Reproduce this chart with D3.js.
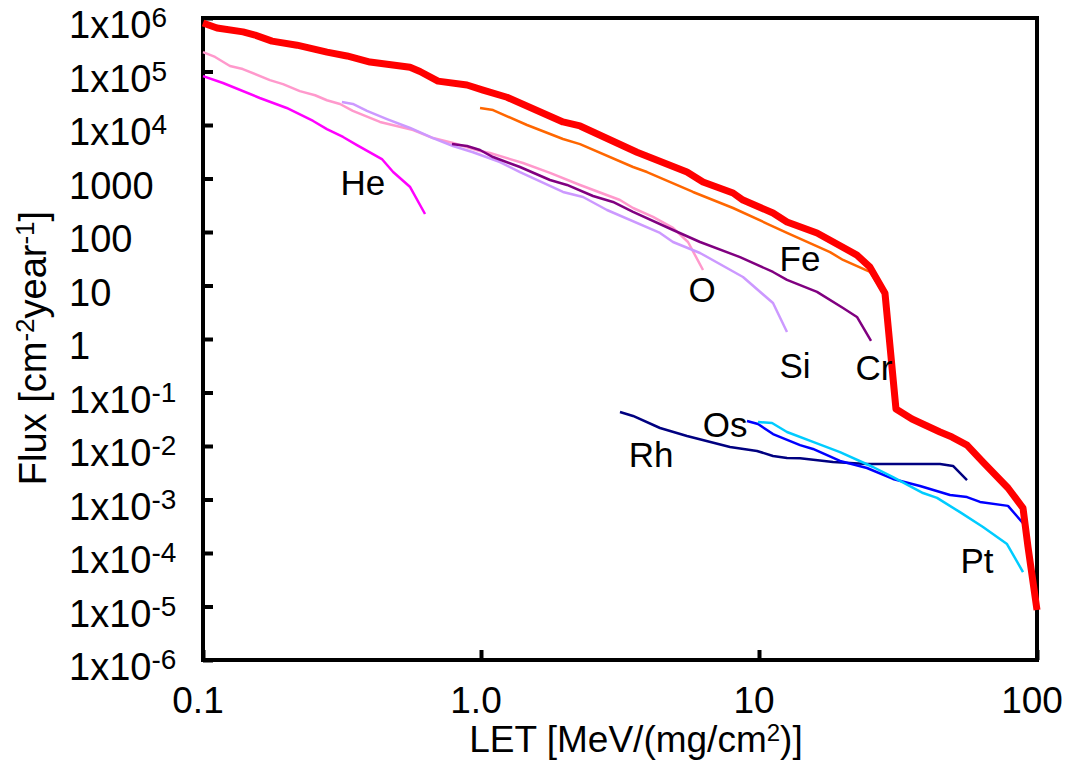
<!DOCTYPE html>
<html>
<head>
<meta charset="utf-8">
<script src="https://cdn.jsdelivr.net/npm/d3@7/dist/d3.min.js"></script>
<style>
  html, body { margin: 0; padding: 0; background: #fff; }
  svg { display: block; font-family: "Liberation Sans", Arial, sans-serif; }
</style>
</head>
<body>
<svg id="chart" width="1069" height="769"></svg>
<script>
// LET spectrum of heavy ions: flux vs LET, per element and total
const heX = [0.1, 0.118, 0.16, 0.2, 0.249, 0.279, 0.319, 0.358, 0.44, 0.483, 0.556, 0.629];
const heY = [8.2e4, 6.1e4, 3.2e4, 2.08e4, 1.19e4, 8.4e3, 5.97e3, 4.2e3, 2.31e3, 1.32e3, 693, 217];

const oX = [0.1, 0.1105, 0.125, 0.139, 0.174, 0.194, 0.223, 0.253, 0.279, 0.311, 0.346, 0.433, 0.57, 0.672, 0.793, 0.992, 1.077, 1.416, 1.771, 2.271, 3.162, 3.523, 4.157, 4.905, 5.554, 6.289];
const oY = [2.3e5, 1.87e5, 1.27e5, 1.11e5, 6.9e4, 5.8e4, 4.3e4, 3.6e4, 2.9e4, 2.47e4, 1.83e4, 1.14e4, 8.07e3, 5.7e3, 4.6e3, 3.27e3, 3.0e3, 1.95e3, 1.27e3, 757, 397, 281, 191, 119, 65, 19.5];

const siX = [0.316, 0.346, 0.389, 0.459, 0.556, 0.672, 0.793, 0.936, 1.17, 1.381, 1.972, 2.328, 2.839, 4.405, 4.905, 6.135, 8.758, 11.23, 12.61];
const siY = [2.69e4, 2.47e4, 1.83e4, 1.29e4, 8.8e3, 5.7e3, 4.05e3, 3.1e3, 2.03e3, 1.32e3, 560, 451, 258, 96, 65, 40.5, 14.4, 4.7, 1.35];

const crX = [0.7865, 0.8905, 0.992, 1.105, 1.381, 1.771, 2.039, 2.529, 2.984, 3.523, 4.905, 6.135, 8.546, 11.23, 12.61, 16.17, 20.06, 22.51, 25.29];
const crY = [4.4e3, 4.05e3, 3.41e3, 2.52e3, 1.64e3, 937, 757, 471, 364, 237, 109, 65, 34, 17.9, 12.7, 7.6, 3.8, 2.58, 0.92];

const feX = [0.992, 1.105, 1.464, 1.972, 2.271, 3.523, 3.955, 5.789, 8.064, 10.96, 12.61, 18.01, 20.06, 25.08, 28.63];
const feY = [2.08e4, 1.9e4, 1.0e4, 5.47e3, 4.4e3, 1.64e3, 1.32e3, 560, 281, 135, 96, 42, 30, 17.9, 6.1];

const rhX = [3.162, 3.523, 4.405, 5.508, 7.866, 9.836, 11.23, 12.61, 14.05, 18.46, 24.46, 44.79, 49.88, 56.01];
const rhY = [0.0432, 0.0364, 0.0217, 0.0154, 0.00958, 0.00807, 0.0065, 0.00597, 0.0059, 0.00502, 0.00461, 0.00461, 0.00423, 0.00231];

const osX = [9.055, 9.918, 11.23, 14.05, 15.64, 19.56, 24.46, 30.34, 37.95, 48.66, 56.01, 62.37, 78.65, 89.06];
const osY = [0.0293, 0.0258, 0.0167, 0.0104, 0.0088, 0.00525, 0.00388, 0.00242, 0.00179, 0.00121, 0.00111, 0.0009, 0.00076, 0.00036];

const ptX = [9.918, 11.14, 12.61, 15.64, 19.56, 25.71, 30.34, 38.91, 43.7, 52.84, 63.94, 78.0, 89.06];
const ptY = [0.0281, 0.0269, 0.0183, 0.0119, 0.0077, 0.00405, 0.00263, 0.00132, 0.00107, 0.00058, 0.000306, 0.000147, 4.4e-5];

const totalX = [0.1, 0.1123, 0.1393, 0.1539, 0.1771, 0.2179, 0.2793, 0.3296, 0.3988, 0.5555, 0.6034, 0.7003, 0.8905, 1.017, 1.24, 1.972, 2.271, 3.641, 5.508, 6.289, 8.064, 8.758, 11.23, 12.61, 16.17, 22.51, 25.08, 28.39, 31.1, 35.51, 44.79, 49.47, 56.01, 63.94, 78.65, 89.06, 92.81, 100];
const totalY = [8.07e5, 6.5e5, 5.5e5, 4.8e5, 3.7e5, 3.1e5, 2.3e5, 1.95e5, 1.5e5, 1.2e5, 1.0e5, 6.6e4, 5.6e4, 4.5e4, 3.3e4, 1.14e4, 9.6e3, 3.1e3, 1.32e3, 860, 536, 396, 226, 154, 96, 37, 22, 7.2, 0.049, 0.032, 0.0183, 0.0147, 0.0104, 0.005, 0.00164, 6.9e-4, 1.3e-4, 8.6e-6];

// Axis ticks and their labels
const xTicks = [0.1, 1, 10, 100];
const xTickLabels = ["0.1", "1.0", "10", "100"];
const yTicks = [1e6, 1e5, 1e4, 1e3, 100, 10, 1, 1e-1, 1e-2, 1e-3, 1e-4, 1e-5, 1e-6];
const yTickBase = ["1x10", "1x10", "1x10", "1000", "100", "10", "1", "1x10", "1x10", "1x10", "1x10", "1x10", "1x10"];
const yTickSup = ["6", "5", "4", "", "", "", "", "-1", "-2", "-3", "-4", "-5", "-6"];

// Element label anchors (data units)
const labelNames = ["He", "O", "Si", "Cr", "Fe", "Rh", "Os", "Pt"];
const labelX = [0.376, 6.24, 13.48, 25.93, 14.05, 4.09, 7.55, 60.84];
const labelY = [492, 4.92, 0.187, 0.171, 18.7, 0.00405, 0.0147, 4.23e-5];

const series = [
  { xs: heX, ys: heY, color: "#ff00ff", width: 2.5 },
  { xs: oX, ys: oY, color: "#ff99cc", width: 2.5 },
  { xs: siX, ys: siY, color: "#cc99ff", width: 2.5 },
  { xs: crX, ys: crY, color: "#800080", width: 2.5 },
  { xs: feX, ys: feY, color: "#ff6600", width: 2.5 },
  { xs: rhX, ys: rhY, color: "#000080", width: 2.5 },
  { xs: osX, ys: osY, color: "#0000ff", width: 2.5 },
  { xs: ptX, ys: ptY, color: "#00ccff", width: 2.5 },
  { xs: totalX, ys: totalY, color: "#ff0000", width: 7 }
];

const svg = d3.select("#chart");
const plotLeft = 203, plotRight = 1037, plotTop = 18, plotBottom = 660;

const x = d3.scaleLog().domain([0.1, 100]).range([plotLeft, plotRight]);
const y = d3.scaleLog().domain([1e-6, 1e6]).range([plotBottom, plotTop]);

svg.append("rect").attr("width", 1069).attr("height", 769).attr("fill", "#fff");

// Inward tick marks
svg.append("g")
  .attr("transform", `translate(${plotLeft},0)`)
  .call(d3.axisRight(y).tickValues(yTicks).tickSize(10).tickFormat(""))
  .call(g => g.select(".domain").remove())
  .call(g => g.selectAll("line").attr("stroke", "#000").attr("stroke-width", 4));

svg.append("g")
  .attr("transform", `translate(0,${plotBottom})`)
  .call(d3.axisTop(x).tickValues(xTicks).tickSize(10).tickFormat(""))
  .call(g => g.select(".domain").remove())
  .call(g => g.selectAll("line").attr("stroke", "#000").attr("stroke-width", 4));

// Plot frame
svg.append("rect")
  .attr("x", plotLeft).attr("y", plotTop)
  .attr("width", plotRight - plotLeft).attr("height", plotBottom - plotTop)
  .attr("fill", "none").attr("stroke", "#000").attr("stroke-width", 4);

// Series
const line = d3.line().x(d => x(d[0])).y(d => y(d[1]));
svg.append("g").selectAll("path")
  .data(series)
  .join("path")
  .attr("d", s => line(d3.zip(s.xs, s.ys)))
  .attr("fill", "none")
  .attr("stroke", s => s.color)
  .attr("stroke-width", s => s.width)
  .attr("stroke-linejoin", "round");

// Y tick labels
const yl = svg.append("g").attr("font-size", 38).attr("fill", "#000");
yTicks.forEach((v, i) => {
  const t = yl.append("text").attr("x", 69).attr("y", y(v) + 20);
  t.append("tspan").text(yTickBase[i]);
  if (yTickSup[i]) t.append("tspan").attr("font-size", 28).attr("dy", -11).text(yTickSup[i]);
});

// X tick labels
svg.append("g").attr("font-size", 37).attr("text-anchor", "middle")
  .selectAll("text")
  .data(xTicks)
  .join("text")
  .attr("x", d => x(d) - 5)
  .attr("y", 713)
  .text((d, i) => xTickLabels[i]);

// Axis titles
const xt = svg.append("text").attr("x", 636).attr("y", 752)
  .attr("font-size", 37).attr("text-anchor", "middle");
xt.append("tspan").text("LET [MeV/(mg/cm");
xt.append("tspan").attr("font-size", 24).attr("dy", -11).text("2");
xt.append("tspan").attr("dy", 11).text(")]");

const yt = svg.append("text")
  .attr("transform", "translate(46,348) rotate(-90)")
  .attr("font-size", 38).attr("text-anchor", "middle");
yt.append("tspan").text("Flux [cm");
yt.append("tspan").attr("font-size", 26).attr("dy", -12).text("-2");
yt.append("tspan").attr("dy", 12).text("year");
yt.append("tspan").attr("font-size", 26).attr("dy", -12).text("-1");
yt.append("tspan").attr("dy", 12).text("]");

// Element labels
svg.append("g").attr("font-size", 35).attr("text-anchor", "middle")
  .selectAll("text")
  .data(labelNames)
  .join("text")
  .attr("x", (d, i) => x(labelX[i]))
  .attr("y", (d, i) => y(labelY[i]))
  .text(d => d);
</script>
</body>
</html>
